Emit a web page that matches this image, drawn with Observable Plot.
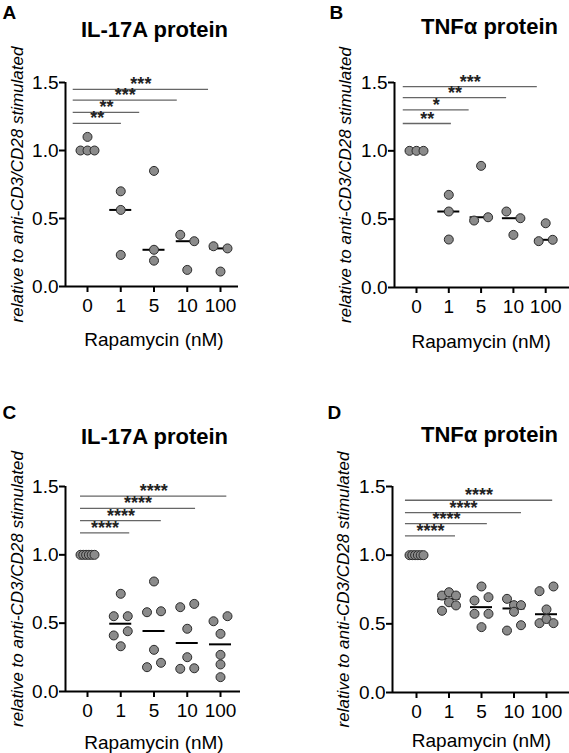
<!DOCTYPE html>
<html><head><meta charset="utf-8">
<script src="https://cdn.jsdelivr.net/npm/d3@7"></script>
<script src="https://cdn.jsdelivr.net/npm/@observablehq/plot@0.6"></script>
<style>
html,body{margin:0;padding:0;background:#fff;}
#fig{position:relative;width:569px;height:753px;overflow:hidden;background:#fff;}
#fig svg{position:absolute;}
</style></head><body><div id="fig"></div>
<script>
// ---------- data ----------
const doses = ["0", "1", "5", "10", "100"];
const yTicks = [0, 0.5, 1.0, 1.5];
const yLabel = "relative to anti-CD3/CD28 stimulated";
const xLabel = "Rapamycin (nM)";
const panelLetters = ["A", "B", "C", "D"];
const panelTitles = ["IL-17A protein", "TNFα protein", "IL-17A protein", "TNFα protein"];

// values per dose group (left-to-right order within a row of neighbours)
const valuesA = [[1.0, 1.0, 1.0, 1.10], [0.70, 0.563, 0.232], [0.85, 0.27, 0.19], [0.38, 0.333, 0.122], [0.296, 0.28, 0.11]];
const valuesB = [[1.0, 1.0, 1.0], [0.678, 0.556, 0.351], [0.89, 0.49, 0.514], [0.556, 0.507, 0.385], [0.47, 0.339, 0.349]];
const valuesC = [[1, 1, 1, 1, 1, 1], [0.715, 0.551, 0.551, 0.41, 0.441, 0.331], [0.805, 0.58, 0.587, 0.305, 0.178, 0.21], [0.617, 0.641, 0.459, 0.251, 0.166, 0.17], [0.514, 0.551, 0.422, 0.268, 0.198, 0.105]];
const valuesD = [[1, 1, 1, 1, 1, 1], [0.706, 0.73, 0.706, 0.595, 0.657, 0.634], [0.772, 0.670, 0.694, 0.573, 0.573, 0.476], [0.682, 0.636, 0.636, 0.588, 0.451, 0.49], [0.738, 0.772, 0.605, 0.505, 0.535, 0.505]];

// significance comparisons (0 vs 1, 5, 10, 100): label, bar level, bar extent in dose-index units
const sigLabelsA = ["**", "**", "***", "***"];
const sigLevelsA = [1.20, 1.28, 1.37, 1.45];
const sigFromA = [-0.43, -0.43, -0.43, -0.43];
const sigToA = [1.02, 1.57, 2.70, 3.64];

const sigLabelsB = ["**", "*", "**", "***"];
const sigLevelsB = [1.20, 1.30, 1.39, 1.47];
const sigFromB = [-0.41, -0.41, -0.41, -0.41];
const sigToB = [1.08, 1.63, 2.79, 3.74];

const sigLabelsC = ["****", "****", "****", "****"];
const sigLevelsC = [1.16, 1.25, 1.34, 1.43];
const sigFromC = [-0.21, -0.21, -0.21, -0.21];
const sigToC = [1.27, 2.22, 3.25, 4.19];

const sigLabelsD = ["****", "****", "****", "****"];
const sigLevelsD = [1.14, 1.23, 1.31, 1.40];
const sigFromD = [-0.34, -0.34, -0.34, -0.34];
const sigToD = [1.20, 2.18, 3.23, 4.19];

// ---------- layout (pixels) ----------
const layouts = [
  {left: 0,   top: 0,   w: 285, h: 376, axisX: 65,  x0: 87,  step: 33.25, right: 238, yZero: 286, yTop: 82,  yLabelDx: -42.5, xLabelDy: 59, titleDx: 0.5, titleDy: -46, letterDx: -63, letterDy: -64},
  {left: 284, top: 0,   w: 285, h: 376, axisX: 394, x0: 416, step: 32.3,  right: 569, yZero: 287, yTop: 82,  yLabelDx: -44,   xLabelDy: 60, titleDx: 8.4, titleDy: -49, letterDx: -65, letterDy: -64},
  {left: 0,   top: 376, w: 285, h: 377, axisX: 65,  x0: 87,  step: 33.25, right: 240, yZero: 691, yTop: 486, yLabelDx: -43,   xLabelDy: 57, titleDx: 0.5, titleDy: -43, letterDx: -63, letterDy: -68},
  {left: 284, top: 376, w: 285, h: 377, axisX: 392, x0: 416, step: 32.5,  right: 569, yZero: 692, yTop: 486, yLabelDx: -44,   xLabelDy: 54, titleDx: 8,   titleDy: -45, letterDx: -65, letterDy: -68}
];

const FONT = "'Liberation Sans', Arial, Helvetica, sans-serif";
const ROW_GAP = 9;   // px: neighbours closer than this share a row
const ROW_SPAN = 14; // px: horizontal span of a row
const MED_HALF = 11; // px: half width of median line

function dodge(vals, pxPerUnit) {
  const idx = vals.map((v, i) => i).sort((a, b) => vals[b] - vals[a] || a - b);
  const rows = [];
  let cur = null;
  for (const i of idx) {
    if (cur && (vals[cur.start] - vals[i]) * pxPerUnit < ROW_GAP) cur.members.push(i);
    else { cur = {start: i, members: [i]}; rows.push(cur); }
  }
  const off = new Array(vals.length).fill(0);
  for (const r of rows) {
    r.members.sort((a, b) => a - b);
    const k = r.members.length;
    r.members.forEach((m, j) => off[m] = k === 1 ? 0 : (j / (k - 1) - 0.5) * ROW_SPAN);
  }
  return off;
}

function makePanel(values, sigLabels, sigLevels, sigFrom, sigTo, letter, title, L) {
  const pxPerUnit = (L.yZero - L.yTop) / 1.5;
  const dots = [], medians = [];
  values.forEach((vals, g) => {
    const off = dodge(vals, pxPerUnit);
    vals.forEach((v, i) => dots.push({g, v, xi: g + off[i] / L.step}));
    medians.push({g, m: d3.median(vals)});
  });
  const sig = sigLabels.map((s, i) => ({s, y: sigLevels[i], x1: sigFrom[i], x2: sigTo[i]}));
  const xDomain = [(L.axisX - L.x0) / L.step, (L.right - L.x0) / L.step];
  const mid = (doses.length - 1) / 2;
  const svg = Plot.plot({
    width: L.w, height: L.h,
    marginLeft: L.axisX - L.left,
    marginRight: L.left + L.w - L.right,
    marginTop: L.yTop - L.top,
    marginBottom: L.top + L.h - L.yZero,
    x: {type: "linear", domain: xDomain},
    y: {type: "linear", domain: [0, 1.5]},
    style: {fontFamily: FONT, fontSize: "19px", color: "#000", background: "transparent", overflow: "visible"},
    marks: [
      Plot.axisY(yTicks, {tickFormat: d => d.toFixed(1), tickSize: 6, tickPadding: 1, fontSize: 19, strokeWidth: 2, label: null}),
      Plot.axisX(doses.map((d, i) => i), {tickFormat: i => doses[i], tickSize: 6, tickPadding: 6, fontSize: 19, strokeWidth: 2, label: null}),
      Plot.ruleX([xDomain[0]], {strokeWidth: 2}),
      Plot.ruleY([0], {strokeWidth: 2}),
      Plot.ruleY(sig, {y: "y", x1: "x1", x2: "x2", stroke: "#666", strokeWidth: 1.3}),
      Plot.text(sig, {x: d => (d.x1 + d.x2) / 2, y: "y", text: "s", lineAnchor: "bottom", dy: 1, fontSize: 18, fontWeight: "bold", fill: "#222"}),
      Plot.ruleY(medians, {y: "m", x1: d => d.g - MED_HALF / L.step, x2: d => d.g + MED_HALF / L.step, stroke: "#000", strokeWidth: 2}),
      Plot.dot(dots, {x: "xi", y: "v", r: 4.5, fill: "#8b8b8b", stroke: "#2b2b2b", strokeWidth: 1}),
      Plot.text([yLabel], {frameAnchor: "left", textAnchor: "middle", rotate: -90, lineAnchor: "bottom", dx: L.yLabelDx, fontSize: 17, fontStyle: "italic"}),
      Plot.text([xLabel], {x: mid, frameAnchor: "bottom", lineAnchor: "bottom", dy: L.xLabelDy, fontSize: 19}),
      Plot.text([title], {x: mid, frameAnchor: "top", lineAnchor: "bottom", dx: L.titleDx, dy: L.titleDy, fontSize: 22, fontWeight: "bold"}),
      Plot.text([letter], {frameAnchor: "top-left", textAnchor: "start", lineAnchor: "bottom", dx: L.letterDx, dy: L.letterDy, fontSize: 19, fontWeight: "bold"})
    ]
  });
  svg.style.left = L.left + "px";
  svg.style.top = L.top + "px";
  return svg;
}

const fig = document.getElementById("fig");
const panelValues = [valuesA, valuesB, valuesC, valuesD];
const panelSig = [
  [sigLabelsA, sigLevelsA, sigFromA, sigToA],
  [sigLabelsB, sigLevelsB, sigFromB, sigToB],
  [sigLabelsC, sigLevelsC, sigFromC, sigToC],
  [sigLabelsD, sigLevelsD, sigFromD, sigToD]
];
panelValues.forEach((vals, p) => {
  const [lab, lev, from, to] = panelSig[p];
  fig.appendChild(makePanel(vals, lab, lev, from, to, panelLetters[p], panelTitles[p], layouts[p]));
});
</script>
</body></html>
